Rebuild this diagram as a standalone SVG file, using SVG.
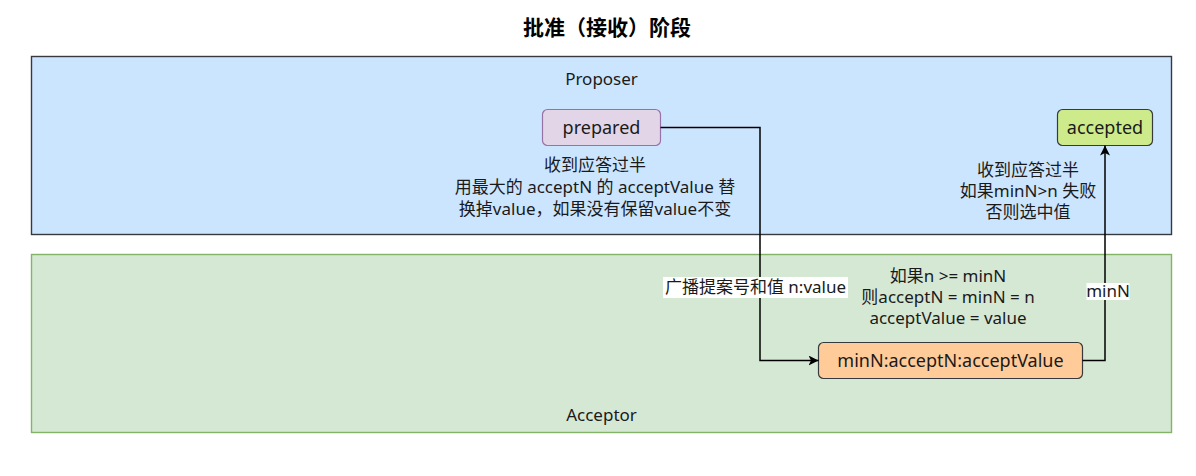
<svg xmlns="http://www.w3.org/2000/svg" width="1196" height="476" viewBox="0 0 1196 476">
<style>
text{font-family:"Noto Sans","Noto Sans CJK SC",sans-serif;font-size:17px;fill:#1a1a1a;text-anchor:middle}
.title{font-weight:bold;font-size:21px;fill:#000}
.node{font-size:18px}
.edge{fill:none;stroke:#000;stroke-width:1.5}
</style>
<defs>
<marker id="arr" viewBox="0 0 10 10" refX="10" refY="5" markerWidth="10" markerHeight="10" markerUnits="userSpaceOnUse" orient="auto">
<path d="M0,0 L10,5 L0,10 L2.5,5 Z" fill="#000"/>
</marker>
</defs>
<rect width="1196" height="476" fill="#fff"/>
<text class="title" x="607" y="35">批准（接收）阶段</text>
<g id="proposer">
<rect x="31.5" y="56.5" width="1140" height="178" fill="#cce5ff" stroke="#36393d" stroke-width="1.4"/>
<text x="601.5" y="85">Proposer</text>
</g>
<g id="acceptor">
<rect x="31.5" y="254.5" width="1140" height="178" fill="#d5e8d4" stroke="#82b366" stroke-width="1.4"/>
<text x="601.5" y="421">Acceptor</text>
</g>
<g id="prepared">
<rect x="542.5" y="109.5" width="118" height="36" rx="5" fill="#e1d5e7" stroke="#9673a6" stroke-width="1.2"/>
<text class="node" x="601.5" y="133.5">prepared</text>
</g>
<g id="accepted">
<rect x="1057.5" y="109.5" width="95" height="36" rx="5" fill="#cdeb8b" stroke="#36393d" stroke-width="1.2"/>
<text class="node" x="1105" y="133.5">accepted</text>
</g>
<g id="acceptor-state">
<rect x="818.5" y="342.5" width="264" height="36" rx="5" fill="#ffcc99" stroke="#36393d" stroke-width="1.2"/>
<text class="node" x="950.5" y="366.5">minN:acceptN:acceptValue</text>
</g>
<g id="note-prepared">
<text x="595" y="170.5">收到应答过半</text>
<text x="595" y="192.5">用最大的 acceptN 的 acceptValue 替</text>
<text x="595" y="214.5">换掉value，如果没有保留value不变</text>
</g>
<g id="note-accepted">
<text x="1028" y="175.5">收到应答过半</text>
<text x="1028" y="196.5">如果minN&gt;n 失败</text>
<text x="1028" y="217.5">否则选中值</text>
</g>
<g id="note-acceptor">
<text x="948" y="281.5">如果n &gt;= minN</text>
<text x="948" y="302.5">则acceptN = minN = n</text>
<text x="948" y="323.5">acceptValue = value</text>
</g>
<g id="connectors">
<path class="edge" d="M660.5,127.5 H760 V360.5 H818.5" marker-end="url(#arr)"/>
<path class="edge" d="M1082.5,360.5 H1105 V145.5" marker-end="url(#arr)"/>
<rect x="663" y="277" width="185" height="21" fill="#fff"/>
<text x="755.5" y="293">广播提案号和值 n:value</text>
<rect x="1086.5" y="283" width="43" height="17" fill="#fff"/>
<text x="1108" y="297">minN</text>
</g>
</svg>
